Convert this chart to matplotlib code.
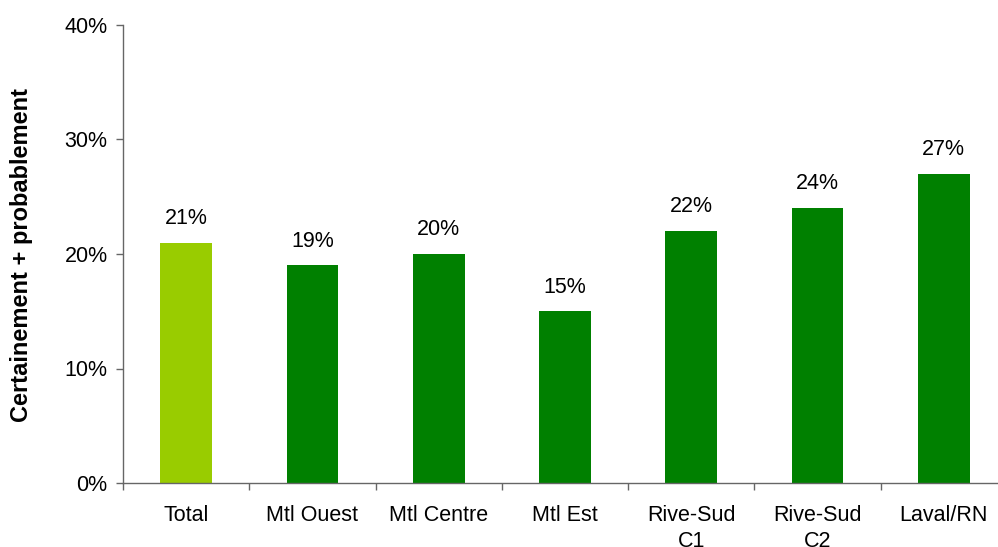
import matplotlib
matplotlib.use("Agg")
import matplotlib.pyplot as plt
from matplotlib.ticker import FixedLocator, PercentFormatter

categories = ["Total", "Mtl Ouest", "Mtl Centre", "Mtl Est", "Rive-Sud\nC1", "Rive-Sud\nC2", "Laval/RN"]
values = [21, 19, 20, 15, 22, 24, 27]
colors = ["#99CC00", "#008000", "#008000", "#008000", "#008000", "#008000", "#008000"]
y_ticks = [0, 10, 20, 30, 40]

plt.rcParams["font.family"] = ["Liberation Sans", "DejaVu Sans"]

fig = plt.figure(figsize=(9.98, 5.47), dpi=100)
ax = fig.add_axes([123 / 998, 64 / 547, 884 / 998, 458 / 547])

x = list(range(len(categories)))
ax.bar(x, values, width=0.41, color=colors, zorder=2)
for xi, v in zip(x, values):
    ax.text(xi, v + 1.2, f"{v}%", ha="center", va="bottom", fontsize=15.5, color="#000000")

ax.set_xlim(-0.5, len(categories) - 0.5)
ax.set_ylim(0, 40)
ax.yaxis.set_major_locator(FixedLocator(y_ticks))
ax.yaxis.set_major_formatter(PercentFormatter(decimals=0))
ax.set_xticks(x)
ax.set_xticklabels(categories, fontsize=15.5, linespacing=1.3)
ax.xaxis.set_minor_locator(FixedLocator([i - 0.5 for i in range(len(categories) + 1)]))
ax.tick_params(axis="x", which="major", length=0, pad=16)
ax.tick_params(axis="x", which="minor", length=5, width=1, color="#666666", direction="out")
ax.tick_params(axis="y", length=5, width=1, color="#666666", direction="out", labelsize=15.5, pad=6)

for s in ("top", "right"):
    ax.spines[s].set_visible(False)
for s in ("left", "bottom"):
    ax.spines[s].set_color("#666666")
    ax.spines[s].set_linewidth(1)

fig.text(22 / 998, 1 - 255 / 547, "Certainement + probablement", rotation=90,
         ha="center", va="center", fontsize=17, fontweight="bold")

fig.savefig("out.png", dpi=100)
